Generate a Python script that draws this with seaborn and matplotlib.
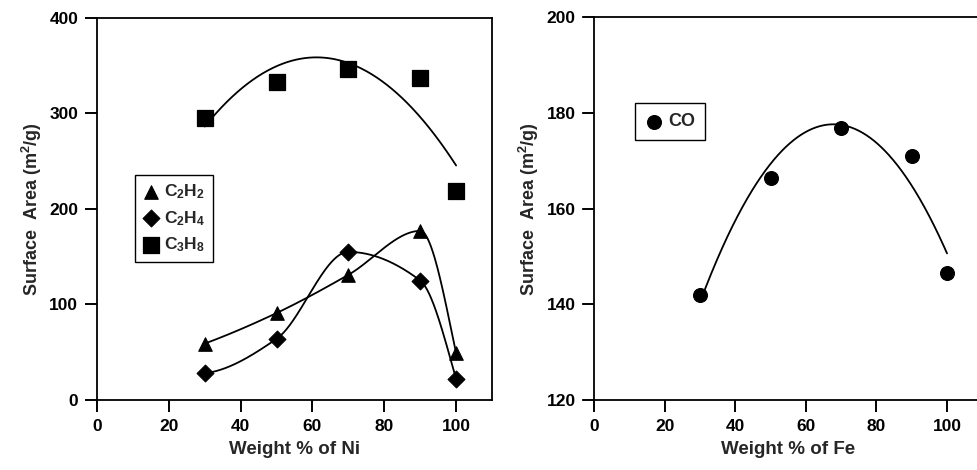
import numpy as np
import pandas as pd
import matplotlib
matplotlib.use("Agg")
import matplotlib.pyplot as plt
import seaborn as sns

# ---------------- data ----------------
ni_pct = [30, 50, 70, 90, 100]
c2h2 = [59, 91, 131, 177, 49]
c2h4 = [28, 64, 155, 125, 22]
c3h8 = [295, 333, 346, 337, 219]

fe_pct = [30, 50, 70, 90, 100]
co = [142.0, 166.5, 176.8, 171.1, 146.5]

left_yticks = [0, 100, 200, 300, 400]
right_yticks = [120, 140, 160, 180, 200]
xticks = [0, 20, 40, 60, 80, 100]

sns.set_theme(style="ticks")
plt.rcParams['font.family'] = ['Liberation Sans', 'DejaVu Sans']
plt.rcParams['font.weight'] = 'bold'
plt.rcParams['mathtext.fontset'] = 'custom'
plt.rcParams['mathtext.rm'] = 'Liberation Sans:bold'
plt.rcParams['mathtext.it'] = 'Liberation Sans:bold'
plt.rcParams['mathtext.bf'] = 'Liberation Sans:bold'
plt.rcParams['xtick.major.size'] = 8.5
plt.rcParams['ytick.major.size'] = 8.5
plt.rcParams['xtick.major.width'] = 1.2
plt.rcParams['ytick.major.width'] = 1.2
plt.rcParams['xtick.direction'] = 'out'
plt.rcParams['ytick.direction'] = 'out'
plt.rcParams['xtick.color'] = 'black'
plt.rcParams['ytick.color'] = 'black'
plt.rcParams['xtick.labelsize'] = 12.5
plt.rcParams['ytick.labelsize'] = 12.5

TICK_LEN_PT = 8.5
TICK_W = 1.2


def pchip(x, y, xs):
    x = np.asarray(x, float); y = np.asarray(y, float)
    h = np.diff(x); delta = np.diff(y) / h
    n = len(x); d = np.zeros(n)
    for k in range(1, n - 1):
        if delta[k - 1] * delta[k] > 0:
            w1 = 2 * h[k] + h[k - 1]; w2 = h[k] + 2 * h[k - 1]
            d[k] = (w1 + w2) / (w1 / delta[k - 1] + w2 / delta[k])
    d[0] = ((2 * h[0] + h[1]) * delta[0] - h[0] * delta[1]) / (h[0] + h[1])
    if np.sign(d[0]) != np.sign(delta[0]):
        d[0] = 0
    d[-1] = ((2 * h[-1] + h[-2]) * delta[-1] - h[-1] * delta[-2]) / (h[-1] + h[-2])
    if np.sign(d[-1]) != np.sign(delta[-1]):
        d[-1] = 0
    idx = np.clip(np.searchsorted(x, xs) - 1, 0, n - 2)
    t = (xs - x[idx]) / h[idx]
    h00 = 2 * t**3 - 3 * t**2 + 1; h10 = t**3 - 2 * t**2 + t
    h01 = -2 * t**3 + 3 * t**2; h11 = t**3 - t**2
    return (h00 * y[idx] + h10 * h[idx] * d[idx] + h01 * y[idx + 1]
            + h11 * h[idx] * d[idx + 1])


xs = np.linspace(30, 100, 400)
fits_left = pd.DataFrame({
    'x': np.concatenate([xs, xs, xs]),
    'y': np.concatenate([pchip(ni_pct, c2h2, xs),
                         pchip(ni_pct, c2h4, xs),
                         np.polyval(np.polyfit(ni_pct, c3h8, 2), xs)]),
    'g': ['a'] * len(xs) + ['b'] * len(xs) + ['c'] * len(xs),
})
fit_right = pd.DataFrame({'x': xs, 'y': np.polyval(np.polyfit(fe_pct, co, 2), xs)})

FIG_W, FIG_H = 9.78, 4.70
fig = plt.figure(figsize=(FIG_W, FIG_H), dpi=100)
rectL = [0.0992, 0.149, 0.4039, 0.813]
rectR = [0.6077, 0.149, 0.3967, 0.814]
axL = fig.add_axes(rectL)
axR = fig.add_axes(rectR)

# left panel
sns.lineplot(data=fits_left, x='x', y='y', units='g', estimator=None,
             color='black', lw=1.3, ax=axL, legend=False)
sns.scatterplot(x=ni_pct, y=c2h2, marker='^', s=95, color='black', ax=axL,
                label='C$_2$H$_2$', edgecolor='black', zorder=3)
sns.scatterplot(x=ni_pct, y=c2h4, marker='D', s=75, color='black', ax=axL,
                label='C$_2$H$_4$', edgecolor='black', zorder=3)
sns.scatterplot(x=ni_pct, y=c3h8, marker='s', s=130, color='black', ax=axL,
                label='C$_3$H$_8$', edgecolor='black', zorder=3)
axL.set_xlabel('Weight % of Ni', fontsize=13.5, fontweight='bold', labelpad=5)
axL.set_ylabel('Surface  Area (m$^2$/g)', fontsize=13, fontweight='bold', labelpad=4)
legL = axL.legend(loc='upper left', bbox_to_anchor=(0.095, 0.59), frameon=True,
                  fancybox=False, edgecolor='black', framealpha=1, fontsize=12.5,
                  handletextpad=0.25, borderpad=0.45, labelspacing=0.45,
                  handlelength=1.0, borderaxespad=0)
legL.get_frame().set_linewidth(1.0)

# right panel
sns.lineplot(data=fit_right, x='x', y='y', color='black', lw=1.3, ax=axR)
sns.scatterplot(x=fe_pct, y=co, marker='o', s=100, color='black', ax=axR,
                label='CO', edgecolor='black', zorder=3)
axR.set_xlabel('Weight % of Fe', fontsize=13.5, fontweight='bold', labelpad=5)
axR.set_ylabel('Surface  Area (m$^2$/g)', fontsize=13, fontweight='bold', labelpad=4)
legR = axR.legend(loc='upper left', bbox_to_anchor=(0.105, 0.775), frameon=True,
                  fancybox=False, edgecolor='black', framealpha=1, fontsize=13,
                  handletextpad=0.3, borderpad=0.55, handlelength=1.0, borderaxespad=0)
legR.get_frame().set_linewidth(1.0)

for ax, rect, yt in ((axL, rectL, left_yticks), (axR, rectR, right_yticks)):
    # tick marks drawn from the tick lists (outward), sized in points
    fx = TICK_LEN_PT / 72.0 / (rect[2] * FIG_W)
    fy = TICK_LEN_PT / 72.0 / (rect[3] * FIG_H)
    ax.vlines(xticks, -fy, 0, transform=ax.get_xaxis_transform(), colors='black',
              linewidth=TICK_W, clip_on=False, zorder=5)
    ax.hlines(yt, -fx, 0, transform=ax.get_yaxis_transform(), colors='black',
              linewidth=TICK_W, clip_on=False, zorder=5)
    ax.set_xlim(0, 110)
    ax.set_ylim(yt[0], yt[-1])
    ax.set_xticks(xticks)
    ax.set_yticks(yt)
    for s in ax.spines.values():
        s.set_color('black'); s.set_linewidth(1.3); s.set_visible(True)
    ax.tick_params(axis='both', which='major', direction='out', length=TICK_LEN_PT,
                   width=TICK_W, color='black', labelsize=12.5, pad=5, left=True,
                   bottom=True, right=False, top=False)
    for lab in ax.get_xticklabels() + ax.get_yticklabels():
        lab.set_fontweight('bold')
    for t in ax.get_legend().get_texts():
        t.set_fontweight('bold')

fig.savefig('out.png', dpi=100)
